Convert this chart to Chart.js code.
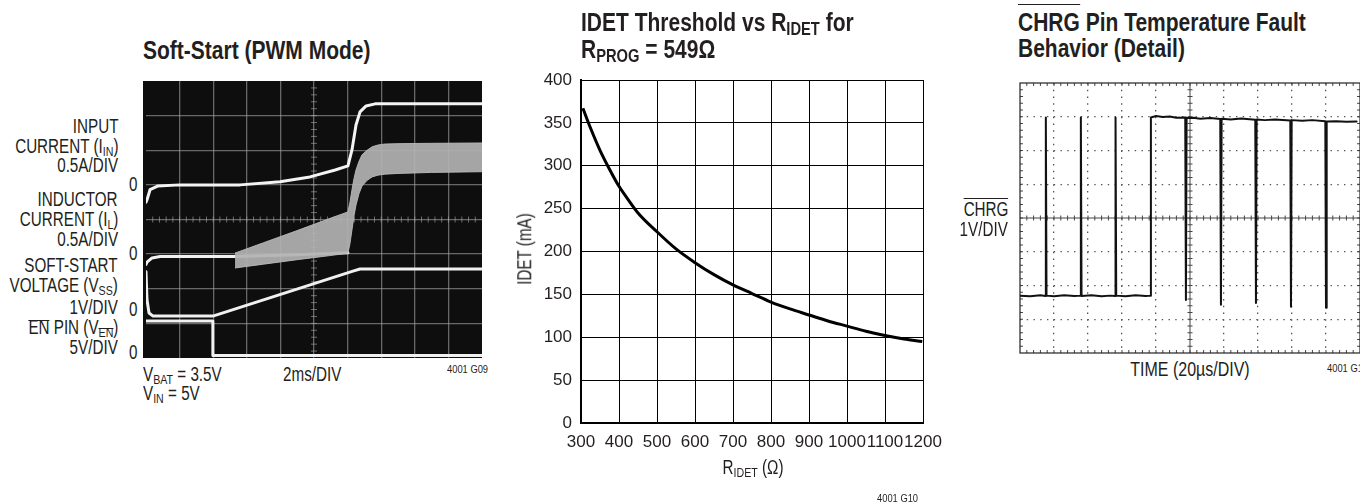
<!DOCTYPE html>
<html>
<head>
<meta charset="utf-8">
<script src="https://cdn.jsdelivr.net/npm/chart.js@4.4.1/dist/chart.umd.min.js"></script>
<style>
body{margin:0;width:1360px;height:504px;background:#fff;position:relative;overflow:hidden;
  font-family:"Liberation Sans",Arial,sans-serif;color:#231f20}
.t{position:absolute;white-space:nowrap;line-height:1}
.s{font-size:0.7em;position:relative;top:0.22em}
.ol,.ol2,.ol3{position:relative}
.ol::before,.ol2::before,.ol3::before{content:"";position:absolute;left:0;right:0;border-top:1.5px solid #231f20}
.ol::before{top:0.17em}
.ol2::before{top:-0.04em}
.ol3::before{top:-0.14em}
canvas{position:absolute}
</style>
</head>
<body>
<canvas id="scope1" width="339" height="277" style="left:143px;top:81px"></canvas>
<canvas id="idetChart" width="460" height="504" style="left:500px;top:0px"></canvas>
<canvas id="scope2" width="341" height="272" style="left:1019px;top:82px"></canvas>
<script>
// ---- Soft-start scope traces (x in divisions 0..10, y in divisions 0..8) ----
const inX  = [0, 0.03, 0.12, 0.36, 1.01, 2.8, 3.99, 4.88, 5.63, 6.01, 6.13, 6.25, 6.37, 6.55, 6.82, 10];
const inY  = [4.5, 4.57, 4.86, 4.97, 5.0, 5.0, 5.09, 5.23, 5.43, 5.55, 6.01, 6.73, 7.11, 7.28, 7.34, 7.34];
const ilX  = [0, 0.03, 0.18, 0.42, 2.65, 4.5, 6.01];
const ilY  = [2.7, 2.77, 2.89, 2.93, 2.93, 2.98, 3.04];
const bandX  = [2.65, 3.5, 4.5, 5.5, 6.01, 6.07, 6.13, 6.19, 6.25, 6.34, 6.43, 6.58, 6.73, 6.9, 7.11, 7.5, 8.5, 10];
const bandHi = [3.03, 3.33, 3.68, 4.04, 4.22, 4.5, 4.86, 5.18, 5.43, 5.68, 5.87, 6.0, 6.10, 6.15, 6.18, 6.19, 6.2, 6.21];
const bandLo = [2.60, 2.71, 2.84, 2.96, 3.03, 3.3, 3.70, 4.1, 4.42, 4.75, 4.97, 5.13, 5.23, 5.28, 5.31, 5.33, 5.36, 5.38];
const ssX  = [0, 0.03, 0.09, 0.21, 1.99, 6.16, 6.37, 10];
const ssY  = [2.49, 1.68, 1.30, 1.21, 1.21, 2.51, 2.57, 2.57];
const enX  = [0, 1.99, 1.99, 10];
const enY  = [1.07, 1.07, 0.07, 0.07];

// ---- IDET threshold vs R_IDET ----
const rIdet = [305, 325, 350, 375, 400, 425, 450, 500, 550, 600, 650, 700, 750, 800, 850, 900, 950, 1000, 1050, 1100, 1150, 1198];
const idet  = [367, 344, 318, 296, 276, 260, 245, 223, 203, 187, 173, 161, 151, 141, 133, 126, 119, 113, 107, 102, 98, 95];
const rTicks = [300, 400, 500, 600, 700, 800, 900, 1000, 1100, 1200];
const idetTicks = [0, 50, 100, 150, 200, 250, 300, 350, 400];

// ---- CHRG pin trace (divisions) ----
const chrgX = [0, 0.3, 0.6, 0.75, 0.76, 0.78, 1.0, 1.3, 1.6, 1.78, 1.79, 1.81, 2.1, 2.4, 2.65, 2.80, 2.81, 2.83, 3.1, 3.4, 3.7, 3.84, 3.85,
  4.0, 4.2, 4.4, 4.6, 4.86, 4.88, 4.90, 5.1, 5.3, 5.6, 5.89, 5.91, 5.93, 6.2, 6.5, 6.92, 6.94, 6.96, 7.2, 7.5, 7.95, 7.97, 7.99,
  8.3, 8.6, 8.98, 9.0, 9.02, 9.3, 9.6, 9.9];
const chrgY = [1.70, 1.68, 1.71, 1.69, 6.98, 1.70, 1.68, 1.71, 1.69, 1.70, 6.98, 1.69, 1.71, 1.68, 1.70, 1.69, 6.98, 1.70, 1.68, 1.71, 1.69, 1.70, 6.98,
  7.02, 6.99, 7.01, 6.97, 6.98, 1.57, 6.96, 6.97, 6.94, 6.96, 6.93, 1.43, 6.94, 6.92, 6.95, 6.91, 1.48, 6.92, 6.90, 6.92, 6.89, 1.37, 6.90,
  6.88, 6.90, 6.87, 1.34, 6.86, 6.87, 6.85, 6.86];

const FONT = '"Liberation Sans", Arial, sans-serif';
Chart.defaults.font.family = FONT;
Chart.defaults.color = '#231f20';

function pts(xs, ys){
    return xs.map((x, i) => ({x: x, y: ys[i]}));
}

// text placed by baseline; squeezed horizontally to look like a condensed face
function txt(html, x, base, size, align, bold, squeeze){
    const k = squeeze || 0.78;
    const d = document.createElement('div');
    d.className = 't';
    d.innerHTML = html;
    d.style.fontSize = size + 'px';
    if (bold) d.style.fontWeight = 'bold';
    d.style.top = (base - 0.8465 * size) + 'px';
    if (align === 'right'){
        d.style.right = (1360 - x) + 'px';
        d.style.transformOrigin = 'right center';
        d.style.transform = 'scaleX(' + k + ')';
    } else if (align === 'center'){
        d.style.left = x + 'px';
        d.style.transformOrigin = 'center center';
        d.style.transform = 'translateX(-50%) scaleX(' + k + ')';
    } else {
        d.style.left = x + 'px';
        d.style.transformOrigin = 'left center';
        d.style.transform = 'scaleX(' + k + ')';
    }
    document.body.appendChild(d);
    return d;
}

// fills the canvas behind the plot (scope screen)
const scopeBack = {
    id: 'scopeBack',
    beforeDraw(chart, args, o){
        if (!o.color) return;
        const c = chart.ctx;
        c.save();
        c.fillStyle = o.color;
        c.fillRect(0, 0, chart.width, chart.height);
        c.restore();
    }
};

// center cross ticks, optional frame
const scopeMarks = {
    id: 'scopeMarks',
    beforeDatasetsDraw(chart, args, o){
        if (!o.color) return;
        const {ctx, scales: {x, y}} = chart;
        const cx = x.getPixelForValue(5), cy = y.getPixelForValue(4);
        ctx.save();
        ctx.strokeStyle = o.color;
        ctx.lineWidth = o.width || 1;
        ctx.beginPath();
        if (o.cross){
            ctx.moveTo(cx, y.top); ctx.lineTo(cx, y.bottom);
            ctx.moveTo(x.left, cy); ctx.lineTo(x.right, cy);
        }
        for (let i = 1; i < 50; i++){
            const px = x.getPixelForValue(i * 0.2);
            ctx.moveTo(px, cy - o.len); ctx.lineTo(px, cy + o.len);
            if (o.frame){
                ctx.moveTo(px, y.top); ctx.lineTo(px, y.top + 3);
                ctx.moveTo(px, y.bottom); ctx.lineTo(px, y.bottom - 3);
            }
        }
        for (let i = 1; i < 40; i++){
            const py = y.getPixelForValue(i * 0.2);
            ctx.moveTo(cx - o.len, py); ctx.lineTo(cx + o.len, py);
            if (o.frame){
                ctx.moveTo(x.left, py); ctx.lineTo(x.left + 3, py);
                ctx.moveTo(x.right, py); ctx.lineTo(x.right - 3, py);
            }
        }
        ctx.stroke();
        if (o.frame){
            ctx.lineWidth = 1.2;
            ctx.strokeStyle = '#222';
            ctx.strokeRect(x.left, y.top, x.right - x.left, y.bottom - y.top);
        }
        ctx.restore();
    }
};
Chart.register(scopeBack, scopeMarks);

function scopeScales(gridColor, dash){
    const edge = (c, max) => (c.tick.value === 0 || c.tick.value === max);
    return {
        x: {type: 'linear', min: 0, max: 10,
            ticks: {display: false, stepSize: 1},
            grid: {drawTicks: false, lineWidth: 1.3,
                   color: c => (edge(c, 10) || (dash && c.tick.value === 5)) ? 'transparent' : gridColor},
            border: {display: false, dash: dash || []},
            afterFit: s => { s.height = 0; }},
        y: {type: 'linear', min: 0, max: 8,
            ticks: {display: false, stepSize: 1},
            grid: {drawTicks: false, lineWidth: 1.3,
                   color: c => (edge(c, 8) || (dash && c.tick.value === 4)) ? 'transparent' : gridColor},
            border: {display: false, dash: dash || []},
            afterFit: s => { s.width = 0; }}
    };
}

const trace = (data, color, w) => ({
    data: data, borderColor: color, borderWidth: w, pointRadius: 0,
    fill: false, tension: 0, borderJoinStyle: 'round', borderCapStyle: 'round'
});

// ---- left scope ----
new Chart(document.getElementById('scope1'), {
    type: 'line',
    data: {datasets: [
        trace(pts(bandX, bandLo), 'rgba(185,185,185,0.9)', 1),
        Object.assign(trace(pts(bandX, bandHi), 'rgba(185,185,185,0.9)', 1), {fill: '-1', backgroundColor: 'rgba(178,178,178,0.92)'}),
        trace(pts(ilX, ilY), '#f2f2f2', 3),
        trace(pts(inX, inY), '#f4f4f4', 3),
        trace(pts(ssX, ssY), '#f0f0f0', 3),
        trace(pts(enX, enY), '#f0f0f0', 3)
    ]},
    options: {
        responsive: false, animation: false, events: [], devicePixelRatio: 1,
        layout: {padding: {left: 3, right: 0, top: 0, bottom: 0}},
        scales: scopeScales('rgba(165,165,165,0.6)'),
        plugins: {legend: {display: false}, tooltip: {enabled: false},
                  scopeBack: {color: '#0e0e0e'},
                  scopeMarks: {color: 'rgba(170,170,170,0.6)', len: 3}}
    }
});

// ---- middle chart ----
new Chart(document.getElementById('idetChart'), {
    type: 'line',
    data: {datasets: [{
        data: pts(rIdet, idet), borderColor: '#000', borderWidth: 3, pointRadius: 0,
        fill: false, cubicInterpolationMode: 'monotone'
    }]},
    options: {
        responsive: false, animation: false, events: [], devicePixelRatio: 1,
        layout: {padding: {left: 0, right: 37, top: 80, bottom: 51}},
        scales: {
            x: {type: 'linear', min: 300, max: 1200,
                afterBuildTicks: s => { s.ticks = rTicks.map(v => ({value: v})); },
                ticks: {autoSkip: false, maxRotation: 0, padding: 9, font: {size: 17}, color: '#231f20',
                        callback: v => String(v)},
                grid: {color: '#000', lineWidth: 1, drawTicks: false},
                border: {color: '#000', width: 2},
                afterFit: s => { s.height = 30; }},
            y: {type: 'linear', min: 0, max: 400,
                afterBuildTicks: s => { s.ticks = idetTicks.map(v => ({value: v})); },
                ticks: {padding: 9, font: {size: 17}, color: '#231f20', callback: v => String(v)},
                grid: {color: '#000', lineWidth: 1, drawTicks: false},
                border: {color: '#000', width: 2},
                afterFit: s => { s.width = 81; }}
        },
        plugins: {legend: {display: false}, tooltip: {enabled: false},
                  scopeBack: {color: null}, scopeMarks: {color: null}}
    }
});

// ---- right scope ----
new Chart(document.getElementById('scope2'), {
    type: 'line',
    data: {datasets: [trace(pts(chrgX, chrgY), '#111', 2)]},
    options: {
        responsive: false, animation: false, events: [], devicePixelRatio: 1,
        layout: {padding: {left: 1, right: 0, top: 1, bottom: 1}},
        scales: scopeScales('#555', [1.4, 5.35]),
        plugins: {legend: {display: false}, tooltip: {enabled: false},
                  scopeBack: {color: null},
                  scopeMarks: {color: '#444', len: 2.5, cross: true, frame: true}}
    }
});

// ---- texts ----
const T = 25, TK = 0.84, L = 19.5;
txt('Soft-Start (PWM Mode)', 143, 59, T, 'left', true, TK);
[['INPUT', 134], ['CURRENT (I<span class="s">IN</span>)', 154], ['0.5A/DIV', 173],
 ['INDUCTOR', 207], ['CURRENT (I<span class="s">L</span>)', 227], ['0.5A/DIV', 247],
 ['SOFT-START', 273], ['VOLTAGE (V<span class="s">SS</span>)', 293], ['1V/DIV', 315],
 ['<span class="ol">EN</span> PIN (V<span class="s"><span class="ol">EN</span></span>)', 335], ['5V/DIV', 355]
].forEach(l => txt(l[0], 118, l[1], L, 'right'));
[192, 261, 317, 360].forEach(b => txt('0', 129, b, L));
txt('V<span class="s">BAT</span> = 3.5V', 143, 382, L);
txt('V<span class="s">IN</span> = 5V', 143, 401, L);
txt('2ms/DIV', 283, 382, L);
txt('4001 G09', 447, 373, 11, 'left', false, 0.85);

txt('IDET Threshold vs R<span class="s">IDET</span> for', 581, 31, T, 'left', true, TK);
txt('R<span class="s">PROG</span> = 549Ω', 581, 58, T, 'left', true, TK);
const yt = txt('IDET (mA)', 0, 0, L);
yt.style.left = '525px'; yt.style.top = '249px';
yt.style.transformOrigin = 'center center';
yt.style.transform = 'translate(-50%,-50%) rotate(-90deg) scaleX(0.78)';
txt('R<span class="s">IDET</span> (Ω)', 753, 475, L, 'center');
txt('4001 G10', 877, 502, 11, 'left', false, 0.85);

txt('<span class="ol3">CHRG</span> Pin Temperature Fault', 1018, 31, T, 'left', true, TK);
txt('Behavior (Detail)', 1018, 57, T, 'left', true, TK);
txt('<span class="ol2">CHRG</span>', 1008, 217, L, 'right');
txt('1V/DIV', 1008, 237, L, 'right');
txt('TIME (20µs/DIV)', 1190, 377, L, 'center', false, 0.82);
txt('4001 G11', 1327, 372, 11, 'left', false, 0.85);
</script>
</body>
</html>
